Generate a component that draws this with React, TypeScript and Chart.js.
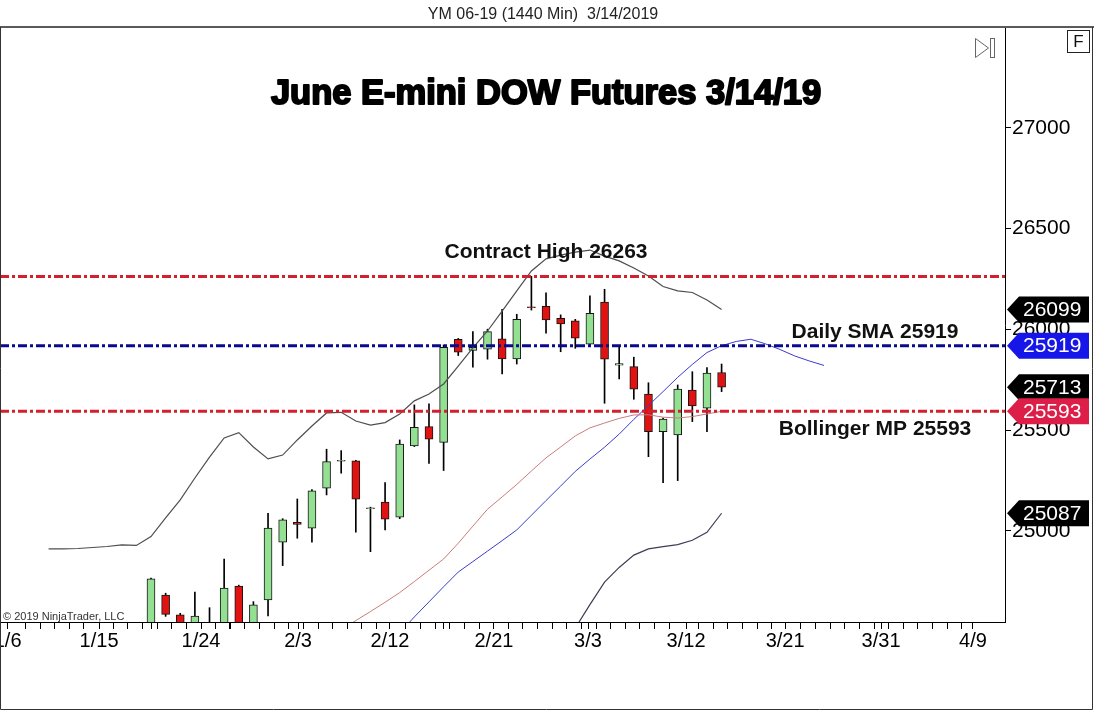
import React, { useEffect, useRef } from "react";
import { Chart, registerables } from "chart.js";

Chart.register(...registerables);

// Daily bars of YM 06-19, index 0 … 39 (last bar 3/14/2019)
const OPEN = [24450, 24681, 24582, 24480, 24530, 24480, 24725, 24520, 24657, 24943,
  25042, 25013, 25211, 25345, 25347, 25110, 25142, 25068, 25421, 25517,
  25439, 25951, 25895, 25902, 25953, 25853, 26112, 26115, 26055, 26042,
  25926, 26135, 25822, 25815, 25679, 25492, 25476, 25699, 25609, 25786];
const HIGH = [24765, 24690, 24590, 24695, 24618, 24860, 24730, 24648, 25087, 25060,
  25158, 25205, 25405, 25398, 25350, 25117, 25239, 25451, 25625, 25630,
  25923, 25955, 25989, 26001, 26100, 26075, 26263, 26182, 26072, 26050,
  26167, 26199, 25918, 25862, 25735, 25560, 25724, 25790, 25810, 25828];
const LOW = [24400, 24575, 24400, 24430, 24450, 24420, 24450, 24480, 24577, 24827,
  24963, 24943, 25178, 25286, 24993, 24896, 25004, 25060, 25418, 25335,
  25299, 25870, 25812, 25852, 25779, 25828, 26096, 25981, 25889, 25906,
  25920, 25633, 25754, 25653, 25368, 25239, 25249, 25542, 25492, 25691];
const CLOSE = [24761, 24585, 24470, 24577, 24500, 24715, 24500, 24632, 25013, 25054,
  25032, 25198, 25343, 25350, 25157, 25114, 25058, 25431, 25514, 25455,
  25911, 25887, 25911, 25989, 25853, 26050, 26108, 26047, 26027, 25956,
  26080, 25852, 25830, 25703, 25492, 25554, 25703, 25620, 25783, 25713];

// Bollinger upper band, starting at bar index -7
const UPPER_START = -7;
const UPPER_BAND = [24910, 24910, 24912, 24917, 24922, 24930, 24927, 24971, 25064, 25153,
  25262, 25366, 25461, 25487, 25416, 25357, 25376, 25451, 25520, 25585,
  25588, 25545, 25525, 25537, 25580, 25645, 25679, 25729, 25818, 25908,
  25992, 26091, 26191, 26290, 26350, 26369, 26384, 26394, 26364, 26340,
  26305, 26265, 26213, 26191, 26183, 26146, 26099];
// Bollinger middle band, starting at bar index 13
const MID_START = 13;
const MID_BAND = [24508, 24554, 24599, 24645, 24693, 24748, 24804, 24860, 24938, 25023,
  25107, 25168, 25230, 25297, 25362, 25416, 25471, 25511, 25535, 25558,
  25575, 25576, 25564, 25560, 25567, 25580, 25593];
// Bollinger lower band, starting at bar index 28
const LOWER_START = 28;
const LOWER_BAND = [24401, 24517, 24633, 24745, 24818, 24879, 24910, 24921, 24931, 24953,
  24992, 25087];
// Displaced daily SMA, starting at bar index 17 (runs past the last bar)
const SMA_START = 17;
const SMA = [24494, 24572, 24647, 24722, 24795, 24847, 24899, 24951, 25004, 25077,
  25150, 25222, 25295, 25356, 25415, 25480, 25553, 25622, 25691, 25762,
  25826, 25885, 25919, 25940, 25951, 25928, 25900, 25868, 25843, 25821];

const CONTRACT_HIGH = 26263;
const DAILY_SMA = 25919;
const BOLLINGER_MP = 25593;

// Price axis
const Y_MIN = 24547;
const Y_MAX = 27496.5;
const Y_TICKS = [25000, 25500, 26000, 26500, 27000];

// Time axis (bar-index units)
const X_MIN = -10.32;
const X_MAX = 58.37;
const DATE_LABELS = ["1/6", "1/15", "1/24", "2/3", "2/12", "2/21", "3/3", "3/12", "3/21", "3/31", "4/9"];
const DATE_LABEL_POS = [-9.8, -3.55, 3.42, 10.05, 16.33, 23.44, 29.87, 36.57, 43.34, 49.9, 56.18];
const EXTRA_TICKS = [0.05, 5.4, 19.96];

const FONT = '"Liberation Sans", Arial, sans-serif';
const UP_FILL = "#93e093";
const DOWN_FILL = "#e01212";

function series(start: number, values: number[]) {
  return values.map((v, k) => ({ x: start + k, y: v }));
}

function buildXTicks() {
  const ticks: { value: number; label: string }[] = [];
  for (let k = -10; k <= 55; k++) {
    const v = k + 0.42;
    if (DATE_LABEL_POS.some((p) => Math.abs(p - v) < 0.25)) continue;
    ticks.push({ value: v, label: "" });
  }
  EXTRA_TICKS.forEach((v) => ticks.push({ value: v, label: "" }));
  DATE_LABEL_POS.forEach((p, i) => ticks.push({ value: p, label: DATE_LABELS[i] }));
  ticks.sort((a, b) => a.value - b.value);
  return ticks;
}

const decorPlugin = {
  id: "decor",
  afterDraw(chart: any) {
    const ctx = chart.ctx as CanvasRenderingContext2D;
    const y = chart.scales.y;
    const area = chart.chartArea;
    const W = chart.width;
    const H = chart.height;
    ctx.save();

    // header
    ctx.fillStyle = "#222";
    ctx.font = `16px ${FONT}`;
    ctx.textAlign = "center";
    ctx.textBaseline = "alphabetic";
    ctx.fillText("YM 06-19 (1440 Min)  3/14/2019", 543, 19);

    // frame
    ctx.fillStyle = "#5a5a5a";
    ctx.fillRect(0, 26, W, 2);
    ctx.strokeStyle = "#333";
    ctx.lineWidth = 1;
    ctx.beginPath();
    ctx.moveTo(0.5, 27);
    ctx.lineTo(0.5, H - 0.5);
    ctx.lineTo(W - 1.5, H - 0.5);
    ctx.lineTo(W - 1.5, 27);
    ctx.stroke();

    // "F" box
    ctx.strokeStyle = "#222";
    ctx.strokeRect(1067.5, 30.5, 22, 22);
    ctx.fillStyle = "#111";
    ctx.font = `17px ${FONT}`;
    ctx.textBaseline = "middle";
    ctx.fillText("F", 1078.5, 42);

    // scroll-to-end icon
    ctx.strokeStyle = "#666";
    ctx.beginPath();
    ctx.moveTo(975.5, 38.5);
    ctx.lineTo(975.5, 57.5);
    ctx.lineTo(988.5, 48);
    ctx.closePath();
    ctx.stroke();
    ctx.strokeRect(990.5, 38.5, 4, 19);

    // title
    ctx.fillStyle = "#000";
    ctx.strokeStyle = "#000";
    ctx.lineWidth = 2;
    ctx.lineJoin = "round";
    ctx.font = `bold 34.5px ${FONT}`;
    ctx.textAlign = "center";
    ctx.textBaseline = "alphabetic";
    ctx.fillText("June E-mini DOW Futures 3/14/19", 546, 104);
    ctx.strokeText("June E-mini DOW Futures 3/14/19", 546, 104);

    // level annotations
    ctx.font = `bold 21px ${FONT}`;
    ctx.textBaseline = "middle";
    ctx.fillStyle = "#111";
    ctx.fillText(`Contract High ${CONTRACT_HIGH}`, 546, y.getPixelForValue(CONTRACT_HIGH) - 24);
    ctx.fillText(`Daily SMA ${DAILY_SMA}`, 875, y.getPixelForValue(DAILY_SMA) - 13);
    ctx.fillText(`Bollinger MP ${BOLLINGER_MP}`, 875, y.getPixelForValue(BOLLINGER_MP) + 18);

    // copyright
    ctx.font = `11px ${FONT}`;
    ctx.textAlign = "left";
    ctx.textBaseline = "alphabetic";
    ctx.fillStyle = "#333";
    ctx.fillText("\u00a9 2019 NinjaTrader, LLC", 3, area.bottom - 2);

    // price markers on the axis
    const markers = [
      { v: UPPER_BAND[UPPER_BAND.length - 1], c: "#000000" },
      { v: SMA[39 - SMA_START], c: "#1616e8" },
      { v: CLOSE[CLOSE.length - 1], c: "#000000" },
      { v: MID_BAND[MID_BAND.length - 1], c: "#dc1e48" },
      { v: LOWER_BAND[LOWER_BAND.length - 1], c: "#000000" },
    ];
    const x0 = area.right + 2;
    ctx.font = `21px ${FONT}`;
    ctx.textBaseline = "middle";
    markers.forEach((m) => {
      const yc = y.getPixelForValue(m.v);
      ctx.fillStyle = m.c;
      ctx.beginPath();
      ctx.moveTo(x0, yc);
      ctx.lineTo(x0 + 12, yc - 13);
      ctx.lineTo(x0 + 82, yc - 13);
      ctx.lineTo(x0 + 82, yc + 13);
      ctx.lineTo(x0 + 12, yc + 13);
      ctx.closePath();
      ctx.fill();
      ctx.fillStyle = "#fff";
      ctx.fillText(String(m.v), x0 + 16, yc + 1);
    });
    ctx.restore();
  },
};

export default function App() {
  const ref = useRef<HTMLCanvasElement | null>(null);

  useEffect(() => {
    if (!ref.current) return;
    const xTicks = buildXTicks();
    const levelLine = (v: number, color: string) => ({
      type: "line" as const,
      data: [{ x: X_MIN, y: v }, { x: X_MAX, y: v }],
      borderColor: color,
      borderWidth: 3,
      borderDash: [9, 3, 3, 3],
      pointRadius: 0,
      order: 0,
    });
    const bandLine = (data: any[], color: string, width: number) => ({
      type: "line" as const,
      data,
      borderColor: color,
      borderWidth: width,
      pointRadius: 0,
      tension: 0,
      order: 1,
    });

    const chart = new Chart(ref.current, {
      type: "line",
      data: {
        datasets: [
          {
            type: "bar",
            data: HIGH.map((h, i) => ({ x: i, y: [LOW[i], h] })) as any,
            backgroundColor: "#000",
            barThickness: 1,
            grouped: false,
            order: 4,
          } as any,
          {
            type: "bar",
            data: OPEN.map((o, i) => ({ x: i, y: [o, CLOSE[i]] })) as any,
            backgroundColor: (c: any) =>
              CLOSE[c.dataIndex] >= OPEN[c.dataIndex] ? UP_FILL : DOWN_FILL,
            borderColor: "#151515",
            borderWidth: 1,
            borderSkipped: false,
            barThickness: 8,
            grouped: false,
            order: 3,
          } as any,
          bandLine(series(UPPER_START, UPPER_BAND), "#4e4e4e", 1.2),
          bandLine(series(MID_START, MID_BAND), "#c97c7c", 1),
          bandLine(series(LOWER_START, LOWER_BAND), "#3e3e52", 1.2),
          bandLine(series(SMA_START, SMA), "#3b3bd0", 1),
          levelLine(CONTRACT_HIGH, "#d22030"),
          levelLine(DAILY_SMA, "#0a0a8c"),
          levelLine(BOLLINGER_MP, "#d22030"),
        ],
      },
      options: {
        animation: false,
        responsive: true,
        maintainAspectRatio: false,
        events: [],
        layout: { padding: { top: 28, left: 0, right: 0, bottom: 0 } },
        plugins: { legend: { display: false }, tooltip: { enabled: false } },
        scales: {
          x: {
            type: "linear",
            position: "bottom",
            min: X_MIN,
            max: X_MAX,
            offset: false,
            afterBuildTicks: (s: any) => {
              s.ticks = xTicks.map((t) => ({ value: t.value }));
            },
            afterFit: (s: any) => {
              s.height = 88;
              s.paddingLeft = 0;
              s.paddingRight = 0;
            },
            ticks: {
              autoSkip: false,
              maxRotation: 0,
              minRotation: 0,
              padding: 0,
              color: "#000",
              font: { family: FONT, size: 20 },
              callback: (_v: any, i: number) => xTicks[i]?.label ?? "",
            },
            grid: {
              drawOnChartArea: false,
              drawTicks: true,
              tickLength: 7,
              tickColor: "#000",
              offset: false,
            },
            border: { display: true, color: "#000", width: 1 },
          },
          y: {
            type: "linear",
            position: "right",
            min: Y_MIN,
            max: Y_MAX,
            afterBuildTicks: (s: any) => {
              s.ticks = Y_TICKS.map((v) => ({ value: v }));
            },
            afterFit: (s: any) => {
              s.width = 89;
              s.paddingTop = 0;
              s.paddingBottom = 0;
            },
            ticks: {
              padding: 1,
              color: "#000",
              font: { family: FONT, size: 21 },
              callback: (v: any) => String(v),
            },
            grid: {
              drawOnChartArea: false,
              drawTicks: true,
              tickLength: 6,
              tickColor: "#000",
            },
            border: { display: true, color: "#000", width: 1 },
          },
        },
      },
      plugins: [decorPlugin],
    } as any);
    return () => chart.destroy();
  }, []);

  return (
    <div style={{ position: "absolute", left: 0, top: 0, width: 1094, height: 710, background: "#fff" }}>
      <canvas ref={ref} />
    </div>
  );
}
